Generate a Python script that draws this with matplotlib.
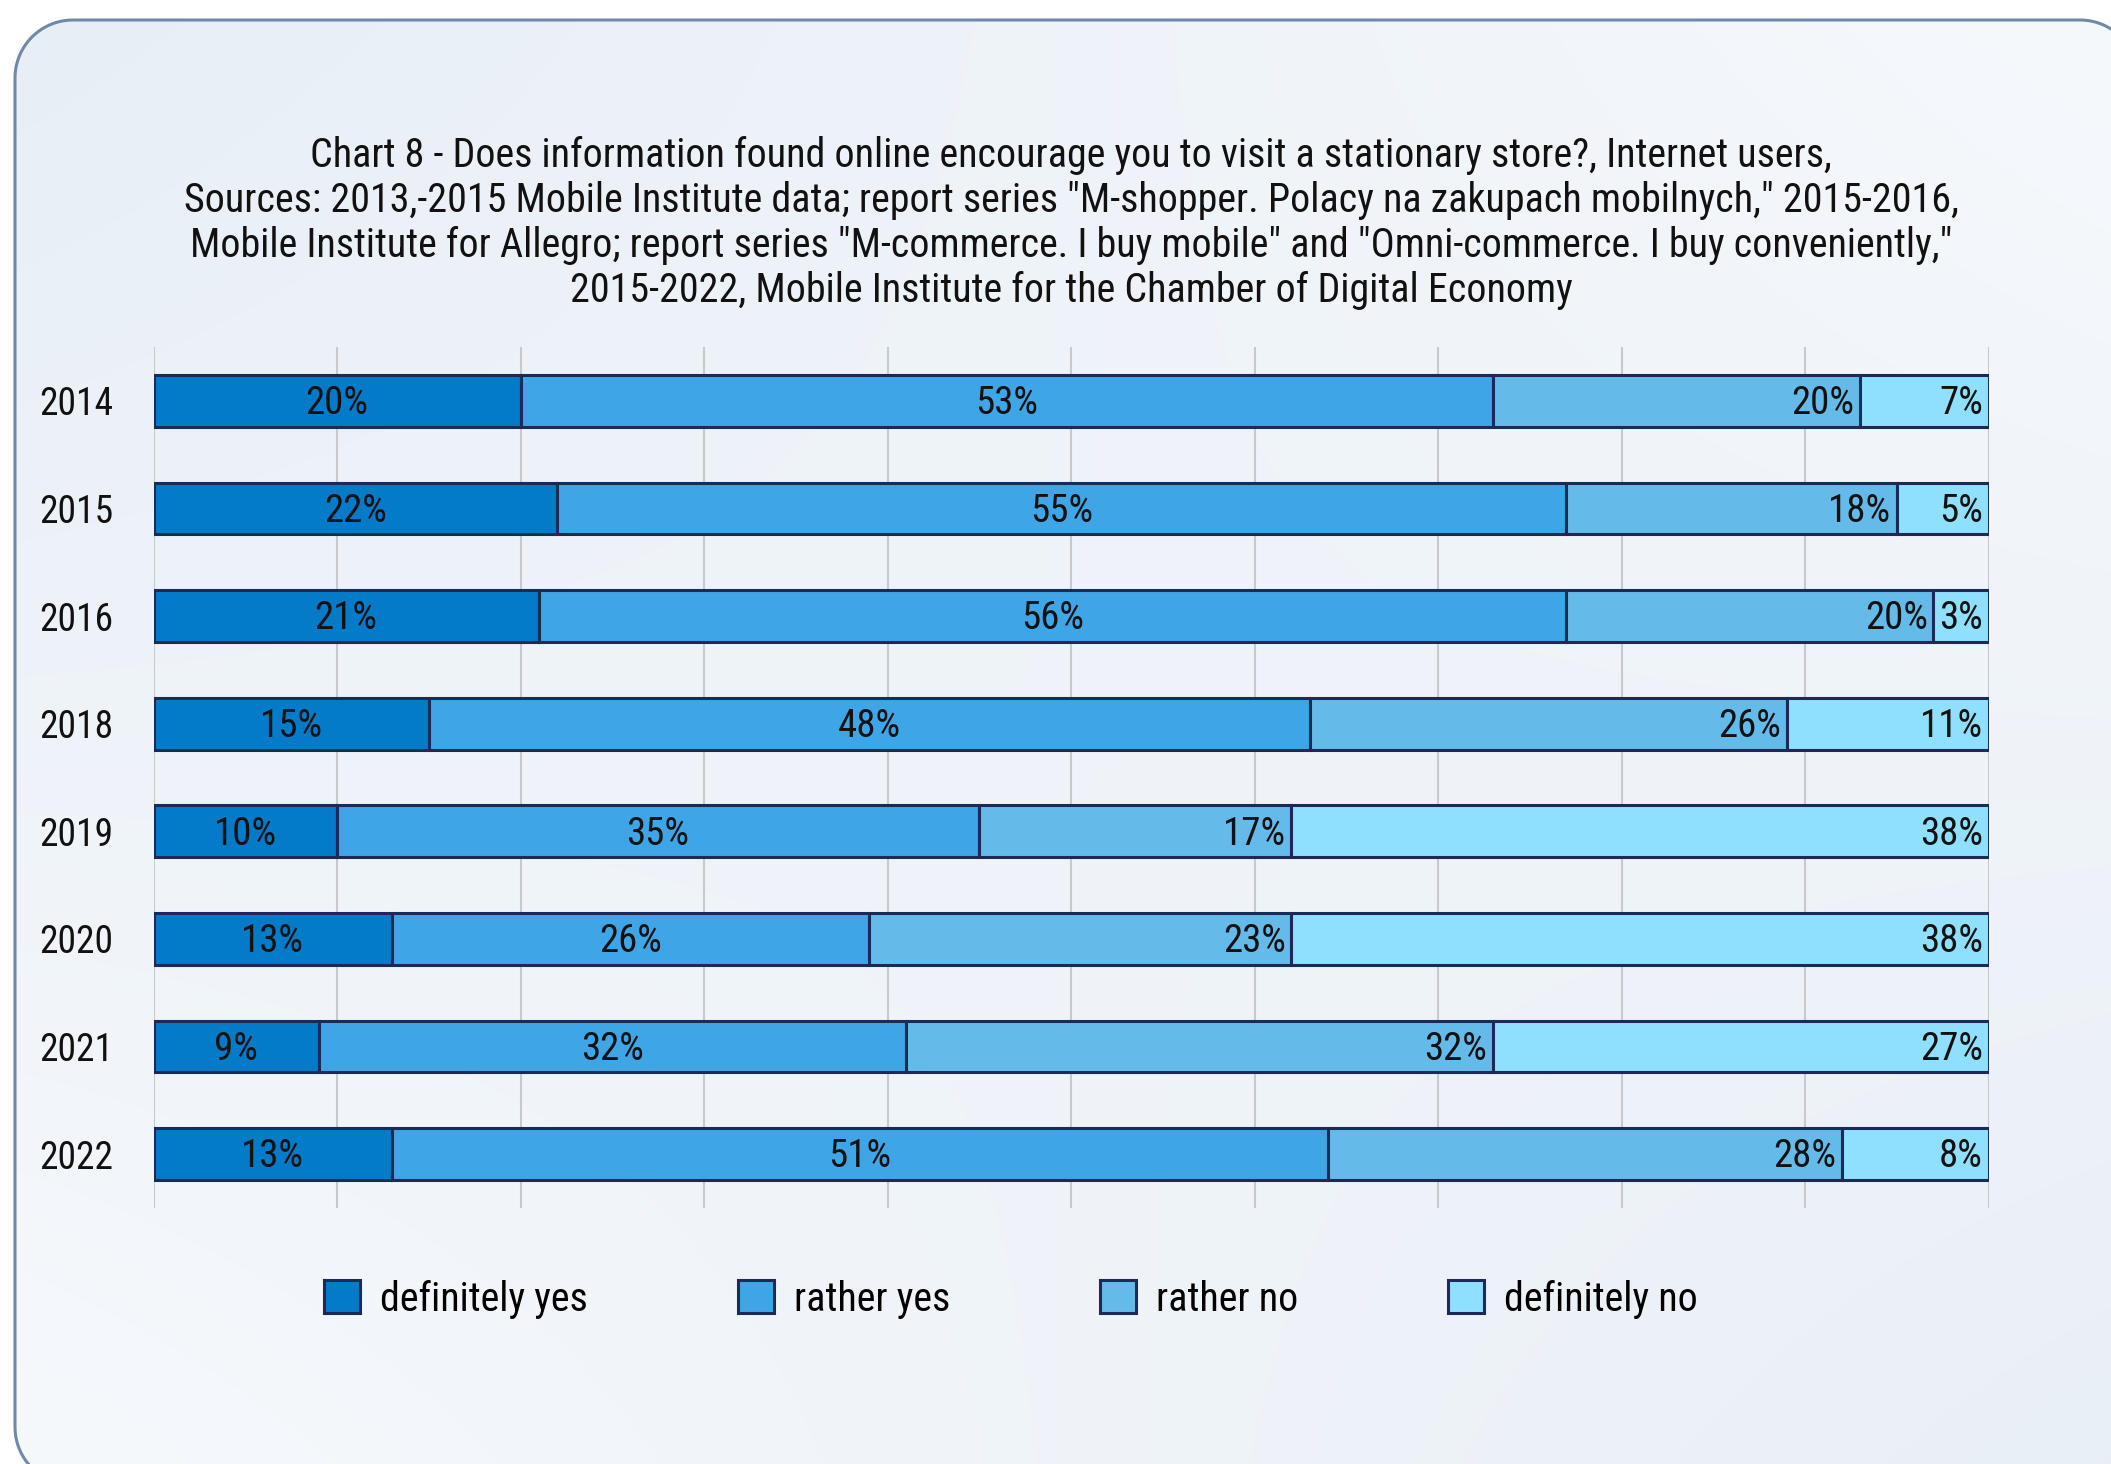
import numpy as np
import matplotlib
matplotlib.use('Agg')
import matplotlib.pyplot as plt
from matplotlib import font_manager
from matplotlib.lines import Line2D
from matplotlib.transforms import IdentityTransform

# survey results, share of answers in %
years = ['2014', '2015', '2016', '2018', '2019', '2020', '2021', '2022']
definitely_yes = [20, 22, 21, 15, 10, 13, 9, 13]
rather_yes = [53, 55, 56, 48, 35, 26, 32, 51]
rather_no = [20, 18, 20, 26, 17, 23, 32, 28]
definitely_no = [7, 5, 3, 11, 38, 38, 27, 8]

series_names = ['definitely yes', 'rather yes', 'rather no', 'definitely no']
series_colors = ['#037BC8', '#3EA5E6', '#64BAE8', '#8FDFFE']
edge = '#1C2A56'

title = ('Chart 8 - Does information found online encourage you to visit a stationary store?, Internet users,\n'
         'Sources: 2013,-2015 Mobile Institute data; report series "M-shopper. Polacy na zakupach mobilnych," 2015-2016,\n'
         'Mobile Institute for Allegro; report series "M-commerce. I buy mobile" and "Omni-commerce. I buy conveniently,"\n'
         '2015-2022, Mobile Institute for the Chamber of Digital Economy')

installed = {f.name for f in font_manager.fontManager.ttflist}
condensed = 'Roboto Condensed' in installed
plt.rcParams['font.family'] = 'Roboto Condensed' if condensed else 'Roboto'
plt.rcParams['savefig.bbox'] = 'standard'
fs = 28 if condensed else 24
fs_title = 28.8 if condensed else 24.5
fs_year = 27 if condensed else 23

W, H = 2111, 1464
fig = plt.figure(figsize=(W / 100, H / 100), dpi=100)
fig.patch.set_facecolor('white')

# rounded panel, in pixels (row 0 = top); it runs off the right and bottom edges
x0, x1, y0, y1, r = 15, 2138, 20, 1485, 58
xx, yy = np.meshgrid(np.arange(W) + 0.5, np.arange(H) + 0.5)
cx = np.clip(xx, x0 + r, x1 - r)
cy = np.clip(yy, y0 + r, y1 - r)
dist = np.hypot(xx - cx, yy - cy)
alpha = np.clip(r + 0.5 - dist, 0, 1)
u = (xx / W)[..., None]
v = (yy / H)[..., None]
c_tl = np.array([0.906, 0.933, 0.965])
c_tr = np.array([0.965, 0.976, 0.988])
c_bl = np.array([0.965, 0.976, 0.988])
c_br = np.array([0.914, 0.937, 0.965])
rgb = (c_tl * (1 - u) * (1 - v) + c_tr * u * (1 - v) + c_bl * (1 - u) * v + c_br * u * v)
rgba = np.dstack([rgb, alpha])

bg = fig.add_axes([0, 0, 1, 1], zorder=-10)
bg.imshow(rgba, extent=(0, W, H, 0), interpolation='nearest', aspect='auto')
bg.set_xlim(0, W)
bg.set_ylim(H, 0)
bg.axis('off')

# panel outline
t = np.linspace(0, np.pi / 2, 30)
corners = [((x0 + r, y1 - r), np.pi * 1.5 - t),
           ((x0 + r, y0 + r), np.pi - t),
           ((x1 - r, y0 + r), np.pi / 2 - t),
           ((x1 - r, y1 - r), -t)]
bx, by = [], []
for (ccx, ccy), ang in corners:
    bx.extend(ccx + r * np.cos(ang))
    by.extend(ccy - r * np.sin(ang))
bx.append(bx[0])
by.append(by[0])
border = Line2D(bx, H - np.array(by), color='#6F89A8', lw=2.2, transform=IdentityTransform(),
                zorder=-5)
fig.add_artist(border)

ax = fig.add_axes([153.5 / W, 256 / H, 1835 / W, 861 / H], zorder=1)
ax.set_facecolor('none')

y = np.arange(len(years))
data = [definitely_yes, rather_yes, rather_no, definitely_no]
left = np.zeros(len(years))
for i, (vals, name, col) in enumerate(zip(data, series_names, series_colors)):
    vals = np.array(vals, dtype=float)
    ax.barh(y, vals, left=left, height=0.48, color=col, edgecolor=edge, linewidth=2.2,
            label=name, zorder=3)
    for yi, l, val in zip(y, left, vals):
        if i < 2:
            ax.annotate(f'{int(val)}%', (l + val / 2, yi), xytext=(0, -2), textcoords='offset points',
                        ha='center', va='center', fontsize=fs, color='#111111', zorder=4)
        else:
            ax.annotate(f'{int(val)}%', (l + val, yi), xytext=(-4, -2), textcoords='offset points',
                        ha='right', va='center', fontsize=fs, color='#111111', zorder=4)
    left += vals

ax.set_xlim(0, 100)
ax.set_ylim(len(years) - 0.5, -0.5)
ax.set_xticks(np.arange(0, 101, 10))
ax.set_xticklabels([])
ax.set_yticks(y)
ax.set_yticklabels(years, fontsize=fs_year, color='#111111')
ax.tick_params(length=0)
ax.tick_params(axis='y', pad=29)
ax.grid(axis='x', color='#C6C9CE', linewidth=1.5, zorder=0)
ax.set_axisbelow(True)
for s in ax.spines.values():
    s.set_visible(False)

fig.text(1071 / W, 1 - 223 / H, title, ha='center', va='center', fontsize=fs_title,
         color='#111111', linespacing=1.2)

fig.legend(loc='center', bbox_to_anchor=(1011 / W, 1 - 1299 / H), ncol=4, frameon=False,
           fontsize=fs_title, handlelength=0.9, handleheight=0.9, handletextpad=0.5,
           columnspacing=3.75)

fig.savefig('out.png', dpi=100, bbox_inches=None)
